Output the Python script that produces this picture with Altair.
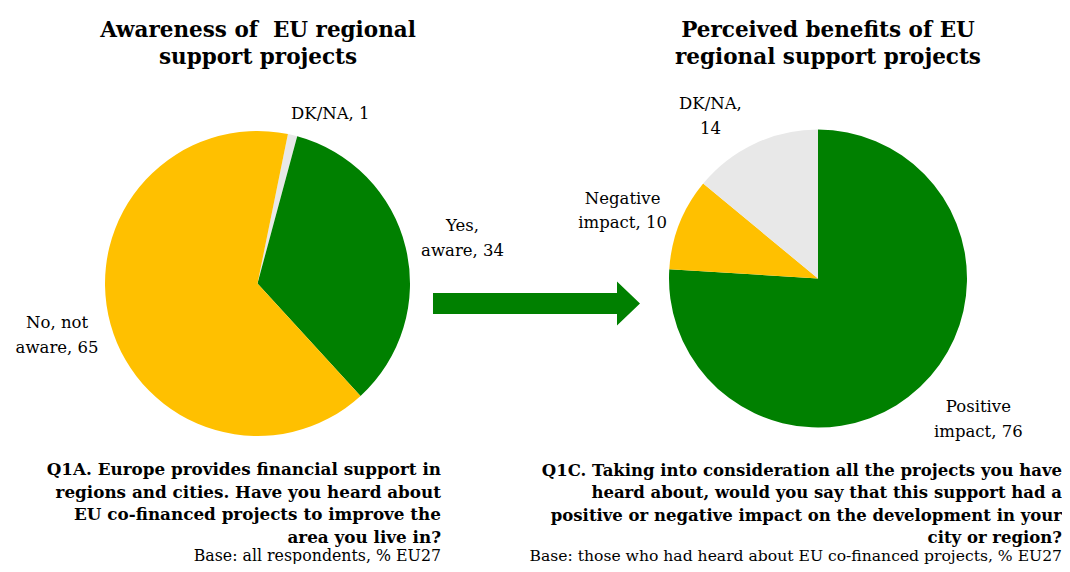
import math
import altair as alt
import pandas as pd

FONT = "DejaVu Serif"

title_left = "Awareness of\u00a0 EU regional\nsupport projects"
title_right = "Perceived benefits of EU\nregional support projects"

aware_keys = ["DK/NA", "Yes, aware", "No, not aware"]
aware_values = [1, 34, 65]
aware_labels = ["DK/NA, 1", "Yes,\naware, 34", "No, not\naware, 65"]
aware_colors = ["#E8E8E8", "#008000", "#FFC000"]

benefit_keys = ["Positive impact", "Negative impact", "DK/NA"]
benefit_values = [76, 10, 14]
benefit_labels = ["Positive\nimpact, 76", "Negative\nimpact, 10", "DK/NA,\n14"]
benefit_colors = ["#008000", "#FFC000", "#E8E8E8"]

q_left = ("Q1A. Europe provides financial support in\nregions and cities. Have you heard about\n"
          "EU co-financed projects to improve the\narea you live in?")
base_left = "Base: all respondents, % EU27"
q_right = ("Q1C. Taking into consideration all the projects you have\nheard about, would you say that this support had a\n"
           "positive or negative impact on the development in your\ncity or region?")
base_right = "Base: those who had heard about EU co-financed projects, % EU27"


def pie(keys, values, labels, colors, cx, cy, r, start, label_r, offsets):
    df = pd.DataFrame({"key": keys, "value": values, "label": labels,
                       "color": colors, "order": list(range(len(keys)))})
    theta_scale = alt.Scale(domain=[0, 100], range=[start, start + 2 * math.pi])
    base = alt.Chart(df)
    arc = base.mark_arc(radius=r).encode(
        theta=alt.Theta("value:Q", stack=True, scale=theta_scale),
        order=alt.Order("order:Q"),
        color=alt.Color("color:N", scale=None),
        x=alt.value(cx), y=alt.value(cy),
    )
    layers = [arc]
    for key, (dx, dy) in zip(keys, offsets):
        t = (base.transform_window(cum="sum(value)", sort=[alt.SortField("order")], frame=[None, 0])
             .transform_calculate(mid="datum.cum - datum.value / 2")
             .transform_filter(alt.datum.key == key)
             .mark_text(radius=label_r, dx=dx, dy=dy, font=FONT, fontSize=16.5, lineBreak="\n",
                        lineHeight=24.5, align="center", baseline="middle", color="#000000")
             .encode(theta=alt.Theta("mid:Q", stack=None, scale=theta_scale),
                     text="label:N", x=alt.value(cx), y=alt.value(cy)))
        layers.append(t)
    return alt.layer(*layers)


pie1 = pie(aware_keys, aware_values, aware_labels, aware_colors, 249.5, 275.5, 152.5,
           math.radians(11.5), 208, [(25, 33), (3, -8), (0, -16)])
pie2 = pie(benefit_keys, benefit_values, benefit_labels, benefit_colors, 810, 270.5, 149,
           0.0, 208, [(18, -23), (-2, -3), (-19, 14)])

one = pd.DataFrame({"a": [0]})


def text_block(s, x, y, size, weight, align, lh):
    return alt.Chart(pd.DataFrame({"t": [s]})).mark_text(
        font=FONT, fontSize=size, fontWeight=weight, align=align, baseline="alphabetic",
        lineBreak="\n", lineHeight=lh, color="#000000"
    ).encode(text="t:N", x=alt.value(x), y=alt.value(y))


arrow_path = "M-8.364,-0.477L0,-0.477L0,-1L1.045,0L0,1L0,0.477L-8.364,0.477Z"
arrow = alt.Chart(one).mark_point(shape=arrow_path, size=1936, filled=True, color="#008000",
                                  opacity=1, strokeWidth=0).encode(x=alt.value(609), y=alt.value(295.5))

chart = alt.layer(
    pie1, pie2, arrow,
    text_block(title_left, 250, 29, 21.5, "bold", "center", 27),
    text_block(title_right, 820, 29, 21.5, "bold", "center", 27),
    text_block(q_left, 433, 467, 16.8, "bold", "right", 22.6),
    text_block(base_left, 433, 553, 15.8, "normal", "right", 20),
    text_block(q_right, 1054, 468, 16.5, "bold", "right", 22.4),
    text_block(base_right, 1054, 553, 15.6, "normal", "right", 20),
).resolve_scale(theta="independent").properties(
    width=1054, height=556, padding=0, autosize=alt.AutoSizeParams(type="none")
).configure_view(stroke=None)

chart.save("out.html", embed_options={"renderer": "svg", "actions": False})
